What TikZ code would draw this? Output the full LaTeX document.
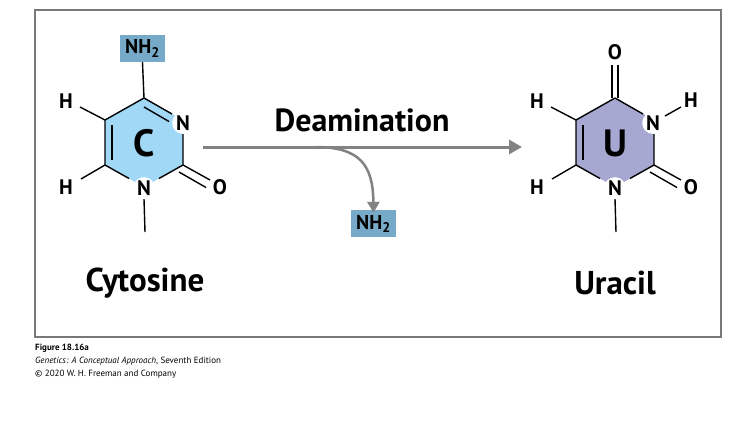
\documentclass[tikz,border=0pt]{standalone}
\usepackage{fontspec}
\setmainfont{PT Sans}
\definecolor{cblue}{RGB}{160,216,246}
\definecolor{ublue}{RGB}{166,168,210}
\definecolor{nhbox}{RGB}{118,170,200}
\definecolor{agray}{RGB}{130,130,130}
\definecolor{fgray}{RGB}{120,120,120}
\tikzset{
 atom/.style={font=\bfseries\fontsize{21}{21}\selectfont, inner sep=1pt},
 natom/.style={atom, circle, fill=white, inner sep=0.5pt},
 bond/.style={line width=1.4pt},
 nhb/.style={fill=nhbox, font=\bfseries\fontsize{20}{20}\selectfont, minimum width=45pt, minimum height=27pt, inner sep=0pt},
 big/.style={font=\bfseries\fontsize{33}{33}\selectfont},
 ring/.style={font=\bfseries\fontsize{38}{38}\selectfont},
 arr/.style={draw=agray, line width=3pt, -{Triangle[length=13pt,width=14pt]}},
 captxt/.style={anchor=west, font=\fontsize{9}{9}\selectfont, inner sep=0pt},
}
\usetikzlibrary{arrows.meta}
\begin{document}
\begin{tikzpicture}[x=1pt,y=-1pt]
\useasboundingbox (0,0) rectangle (754,429);
\draw[fgray, line width=1.6pt] (35,10) rectangle (721,337);
% Cytosine
\fill[cblue] (144,98)--(183,120)--(183,165)--(144,187)--(105,165)--(105,120)--cycle;
\node[natom] (cn1) at (183,123) {N};
\node[natom] (cn2) at (144,188) {N};
\node[ring] (cC) at (144,143) {C};
\node[nhb] (cnh) at (142.5,48.5) {NH\textsubscript{2}};
\node[atom] (ch1) at (66,101) {H};
\node[atom] (ch2) at (66,187) {H};
\node[atom] (co) at (220,187) {O};
\coordinate (cme) at (145,232);
\draw[bond] (cnh.south) -- (144,98) -- (172,114);
\draw[bond] (144,107) -- (169,121.5);
\draw[bond] (183,134) -- (183,165) -- (210,180);
\draw[bond] (179,172) -- (206,187.5);
\draw[bond] (183,165) -- (159,178.5);
\draw[bond] (129,178.5) -- (105,165) -- (105,120) -- (144,98);
\draw[bond] (112,125) -- (112,160);
\draw[bond] (105,120) -- (80,107);
\draw[bond] (105,165) -- (81,179);
\draw[bond] (cn2.south) -- (cme);
\node[big] at (145,283) {Cytosine};
% Uracil
\fill[ublue] (615,98)--(654,120)--(654,165)--(615,187)--(576,165)--(576,120)--cycle;
\node[natom] (un1) at (653,123) {N};
\node[natom] (un2) at (615,188) {N};
\node[ring] (uU) at (615,143) {U};
\node[atom] (uo1) at (615,52) {O};
\node[atom] (uh3) at (691,100) {H};
\node[atom] (uh1) at (537,101) {H};
\node[atom] (uh2) at (537,187) {H};
\node[atom] (uo2) at (691,187) {O};
\coordinate (ume) at (616,232);
\draw[bond] (612,65) -- (612,98);
\draw[bond] (618,65) -- (618,98);
\draw[bond] (615,98) -- (643,114);
\draw[bond] (665,116) -- (681,107);
\draw[bond] (654,134) -- (654,165) -- (681,180);
\draw[bond] (650,172) -- (677,187.5);
\draw[bond] (654,165) -- (630,178.5);
\draw[bond] (600,178.5) -- (576,165) -- (576,120) -- (615,98);
\draw[bond] (583,125) -- (583,160);
\draw[bond] (576,120) -- (551,107);
\draw[bond] (576,165) -- (552,179);
\draw[bond] (un2.south) -- (ume);
\node[big] at (615,283) {Uracil};
% reaction
\coordinate (a0) at (203,147);
\coordinate (a1) at (522,147);
\coordinate (br) at (315,147);
\node[nhb] (rnh) at (373.5,223.5) {NH\textsubscript{2}};
\draw[arr] (a0) -- (a1);
\draw[draw=agray, line width=2.5pt, -{Triangle[length=11pt,width=12pt]}] (br) .. controls (360,147) and (373,165) .. ([yshift=-3pt]rnh.north);
\node[font=\bfseries\fontsize{32}{32}\selectfont] at (362,120) {Deamination};
% caption
\node[captxt, font=\bfseries\fontsize{9}{9}\selectfont] at (35,348) {Figure 18.16a};
\node[captxt] at (35,361) {\textit{Genetics: A Conceptual Approach}, Seventh Edition};
\node[captxt] at (35,374) {© 2020 W. H. Freeman and Company};
\end{tikzpicture}
\end{document}
